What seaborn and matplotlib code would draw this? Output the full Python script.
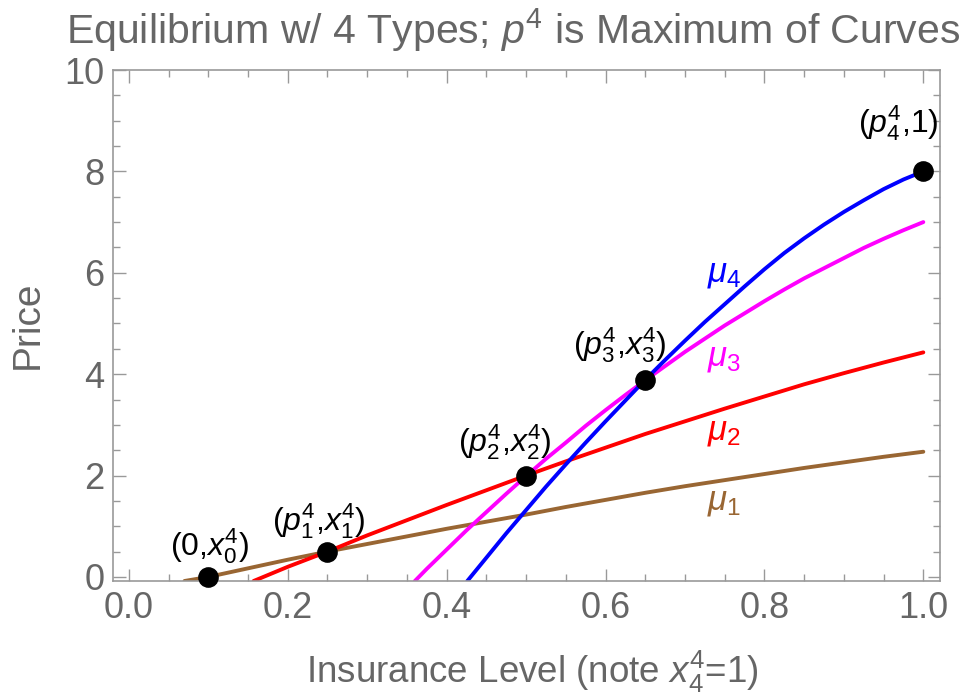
import pandas as pd
import matplotlib
matplotlib.use("Agg")
import matplotlib.pyplot as plt
from matplotlib.ticker import MultipleLocator, FormatStrFormatter
import seaborn as sns

# curve samples (insurance level -> price)
mu1_x = [0.07, 0.1, 0.15, 0.2, 0.25, 0.3, 0.35, 0.4, 0.45, 0.5, 0.55, 0.6, 0.65, 0.7, 0.75, 0.8, 0.85, 0.9, 0.95, 1.0]
mu1_y = [-0.08, 0.0, 0.17, 0.34, 0.5, 0.65, 0.8, 0.95, 1.09, 1.23, 1.38, 1.52, 1.66, 1.79, 1.91, 2.03, 2.15, 2.26, 2.37, 2.47]

mu2_x = [0.157, 0.2, 0.25, 0.3, 0.35, 0.4, 0.45, 0.5, 0.55, 0.6, 0.65, 0.7, 0.75, 0.8, 0.85, 0.9, 0.95, 1.0]
mu2_y = [-0.08, 0.2, 0.5, 0.82, 1.12, 1.42, 1.71, 2.0, 2.28, 2.55, 2.82, 3.07, 3.32, 3.56, 3.80, 4.02, 4.23, 4.43]

mu3_x = [0.36, 0.375, 0.4, 0.425, 0.45, 0.475, 0.5, 0.525, 0.55, 0.575, 0.6, 0.625, 0.65, 0.675,
         0.7, 0.725, 0.75, 0.775, 0.8, 0.825, 0.85, 0.875, 0.9, 0.925, 0.95, 0.975, 1.0]
mu3_y = [-0.08, 0.16, 0.54, 0.92, 1.28, 1.64, 1.99, 2.33, 2.65, 2.98, 3.29, 3.59, 3.88, 4.16,
         4.44, 4.70, 4.96, 5.20, 5.44, 5.67, 5.89, 6.09, 6.29, 6.49, 6.67, 6.84, 7.0]

mu4_x = [0.426, 0.45, 0.475, 0.5, 0.525, 0.55, 0.575, 0.6, 0.625, 0.65, 0.675, 0.7, 0.725, 0.75,
         0.775, 0.8, 0.825, 0.85, 0.875, 0.9, 0.925, 0.95, 0.975, 1.0]
mu4_y = [-0.08, 0.38, 0.86, 1.32, 1.78, 2.22, 2.65, 3.07, 3.48, 3.89, 4.28, 4.66, 5.03, 5.38,
         5.73, 6.07, 6.39, 6.68, 6.95, 7.20, 7.43, 7.65, 7.84, 8.0]

curve_names = ["mu1", "mu2", "mu3", "mu4"]
curve_labels = [r"$\mu_1$", r"$\mu_2$", r"$\mu_3$", r"$\mu_4$"]
curve_colors = ["#996633", "#ff0000", "#ff00ff", "#0000ff"]

# equilibrium points
eq_x = [0.1, 0.25, 0.5, 0.65, 1.0]
eq_y = [0.0, 0.5, 2.0, 3.89, 8.0]
eq_labels = [r"$(0{,}x^4_0)$", r"$(p^4_1{,}x^4_1)$", r"$(p^4_2{,}x^4_2)$",
             r"$(p^4_3{,}x^4_3)$", r"$(p^4_4{,}1)$"]

GRAY = "#666666"
FRAME = "#999999"


def build_frame():
    rows = []
    for name, xs, ys in zip(curve_names, [mu1_x, mu2_x, mu3_x, mu4_x], [mu1_y, mu2_y, mu3_y, mu4_y]):
        for x, y in zip(xs, ys):
            rows.append({"curve": name, "x": x, "y": y})
    return pd.DataFrame(rows)


def main():
    sns.set_theme(style="ticks")
    plt.rcParams["font.family"] = ["Liberation Sans", "DejaVu Sans"]
    plt.rcParams["mathtext.fontset"] = "custom"
    plt.rcParams["mathtext.rm"] = "Liberation Sans"
    plt.rcParams["mathtext.it"] = "Liberation Sans:italic"

    df = build_frame()
    fig = plt.figure(figsize=(9.64, 7.0), dpi=100)
    ax = fig.add_axes([113 / 964, 1 - 581 / 700, (940 - 113) / 964, (581 - 70) / 700])

    sns.lineplot(data=df, x="x", y="y", hue="curve", palette=dict(zip(curve_names, curve_colors)),
                 sort=False, estimator=None, linewidth=2.8, legend=False, ax=ax)
    sns.scatterplot(x=eq_x, y=eq_y, color="black", edgecolor="black", s=190, zorder=5,
                    clip_on=False, ax=ax)

    # point labels, offsets in pixels from each dot
    offsets = [(1, 31), (-9, 30), (-21, 33), (-26, 35), (-25, 48)]
    for x, y, lab, off in zip(eq_x, eq_y, eq_labels, offsets):
        ax.annotate(lab, (x, y), xytext=off, textcoords="offset pixels",
                    ha="center", va="center", fontsize=23, color="black")

    mu_pos = [(0.749, 1.48), (0.749, 2.87), (0.749, 4.33), (0.749, 5.99)]
    for (x, y), lab, c in zip(mu_pos, curve_labels, curve_colors):
        ax.text(x, y, lab, color=c, fontsize=25, ha="center", va="center")

    ax.set_xlim(-0.02, 1.021)
    ax.set_ylim(-0.08, 10.0)
    ax.xaxis.set_major_locator(MultipleLocator(0.2))
    ax.xaxis.set_minor_locator(MultipleLocator(0.05))
    ax.yaxis.set_major_locator(MultipleLocator(2))
    ax.yaxis.set_minor_locator(MultipleLocator(0.5))
    ax.xaxis.set_major_formatter(FormatStrFormatter("%.1f"))
    ax.tick_params(which="both", direction="in", top=True, right=True, color=FRAME,
                   labelcolor=GRAY, labelsize=26, width=1.0)
    ax.tick_params(which="major", length=9)
    ax.tick_params(which="minor", length=5)
    ax.tick_params(axis="x", pad=7)
    ax.tick_params(axis="y", pad=6)
    for sp in ax.spines.values():
        sp.set_color(FRAME)
        sp.set_linewidth(1.2)
    ax.set_xlabel("")
    ax.set_ylabel("")

    fig.text(513 / 964, 1 - 30 / 700, r"Equilibrium w/ 4 Types; $p^4$ is Maximum of Curves",
             ha="center", va="center", fontsize=29.5, color=GRAY)
    fig.text(532 / 964, 1 - 672 / 700, r"Insurance Level (note $x^4_4$=1)",
             ha="center", va="center", fontsize=26.5, color=GRAY)
    fig.text(28 / 964, 1 - 325 / 700, "Price", rotation=90,
             ha="center", va="center", fontsize=28, color=GRAY)

    fig.savefig("out.png", dpi=100)
    plt.close(fig)


if __name__ == "__main__":
    main()
